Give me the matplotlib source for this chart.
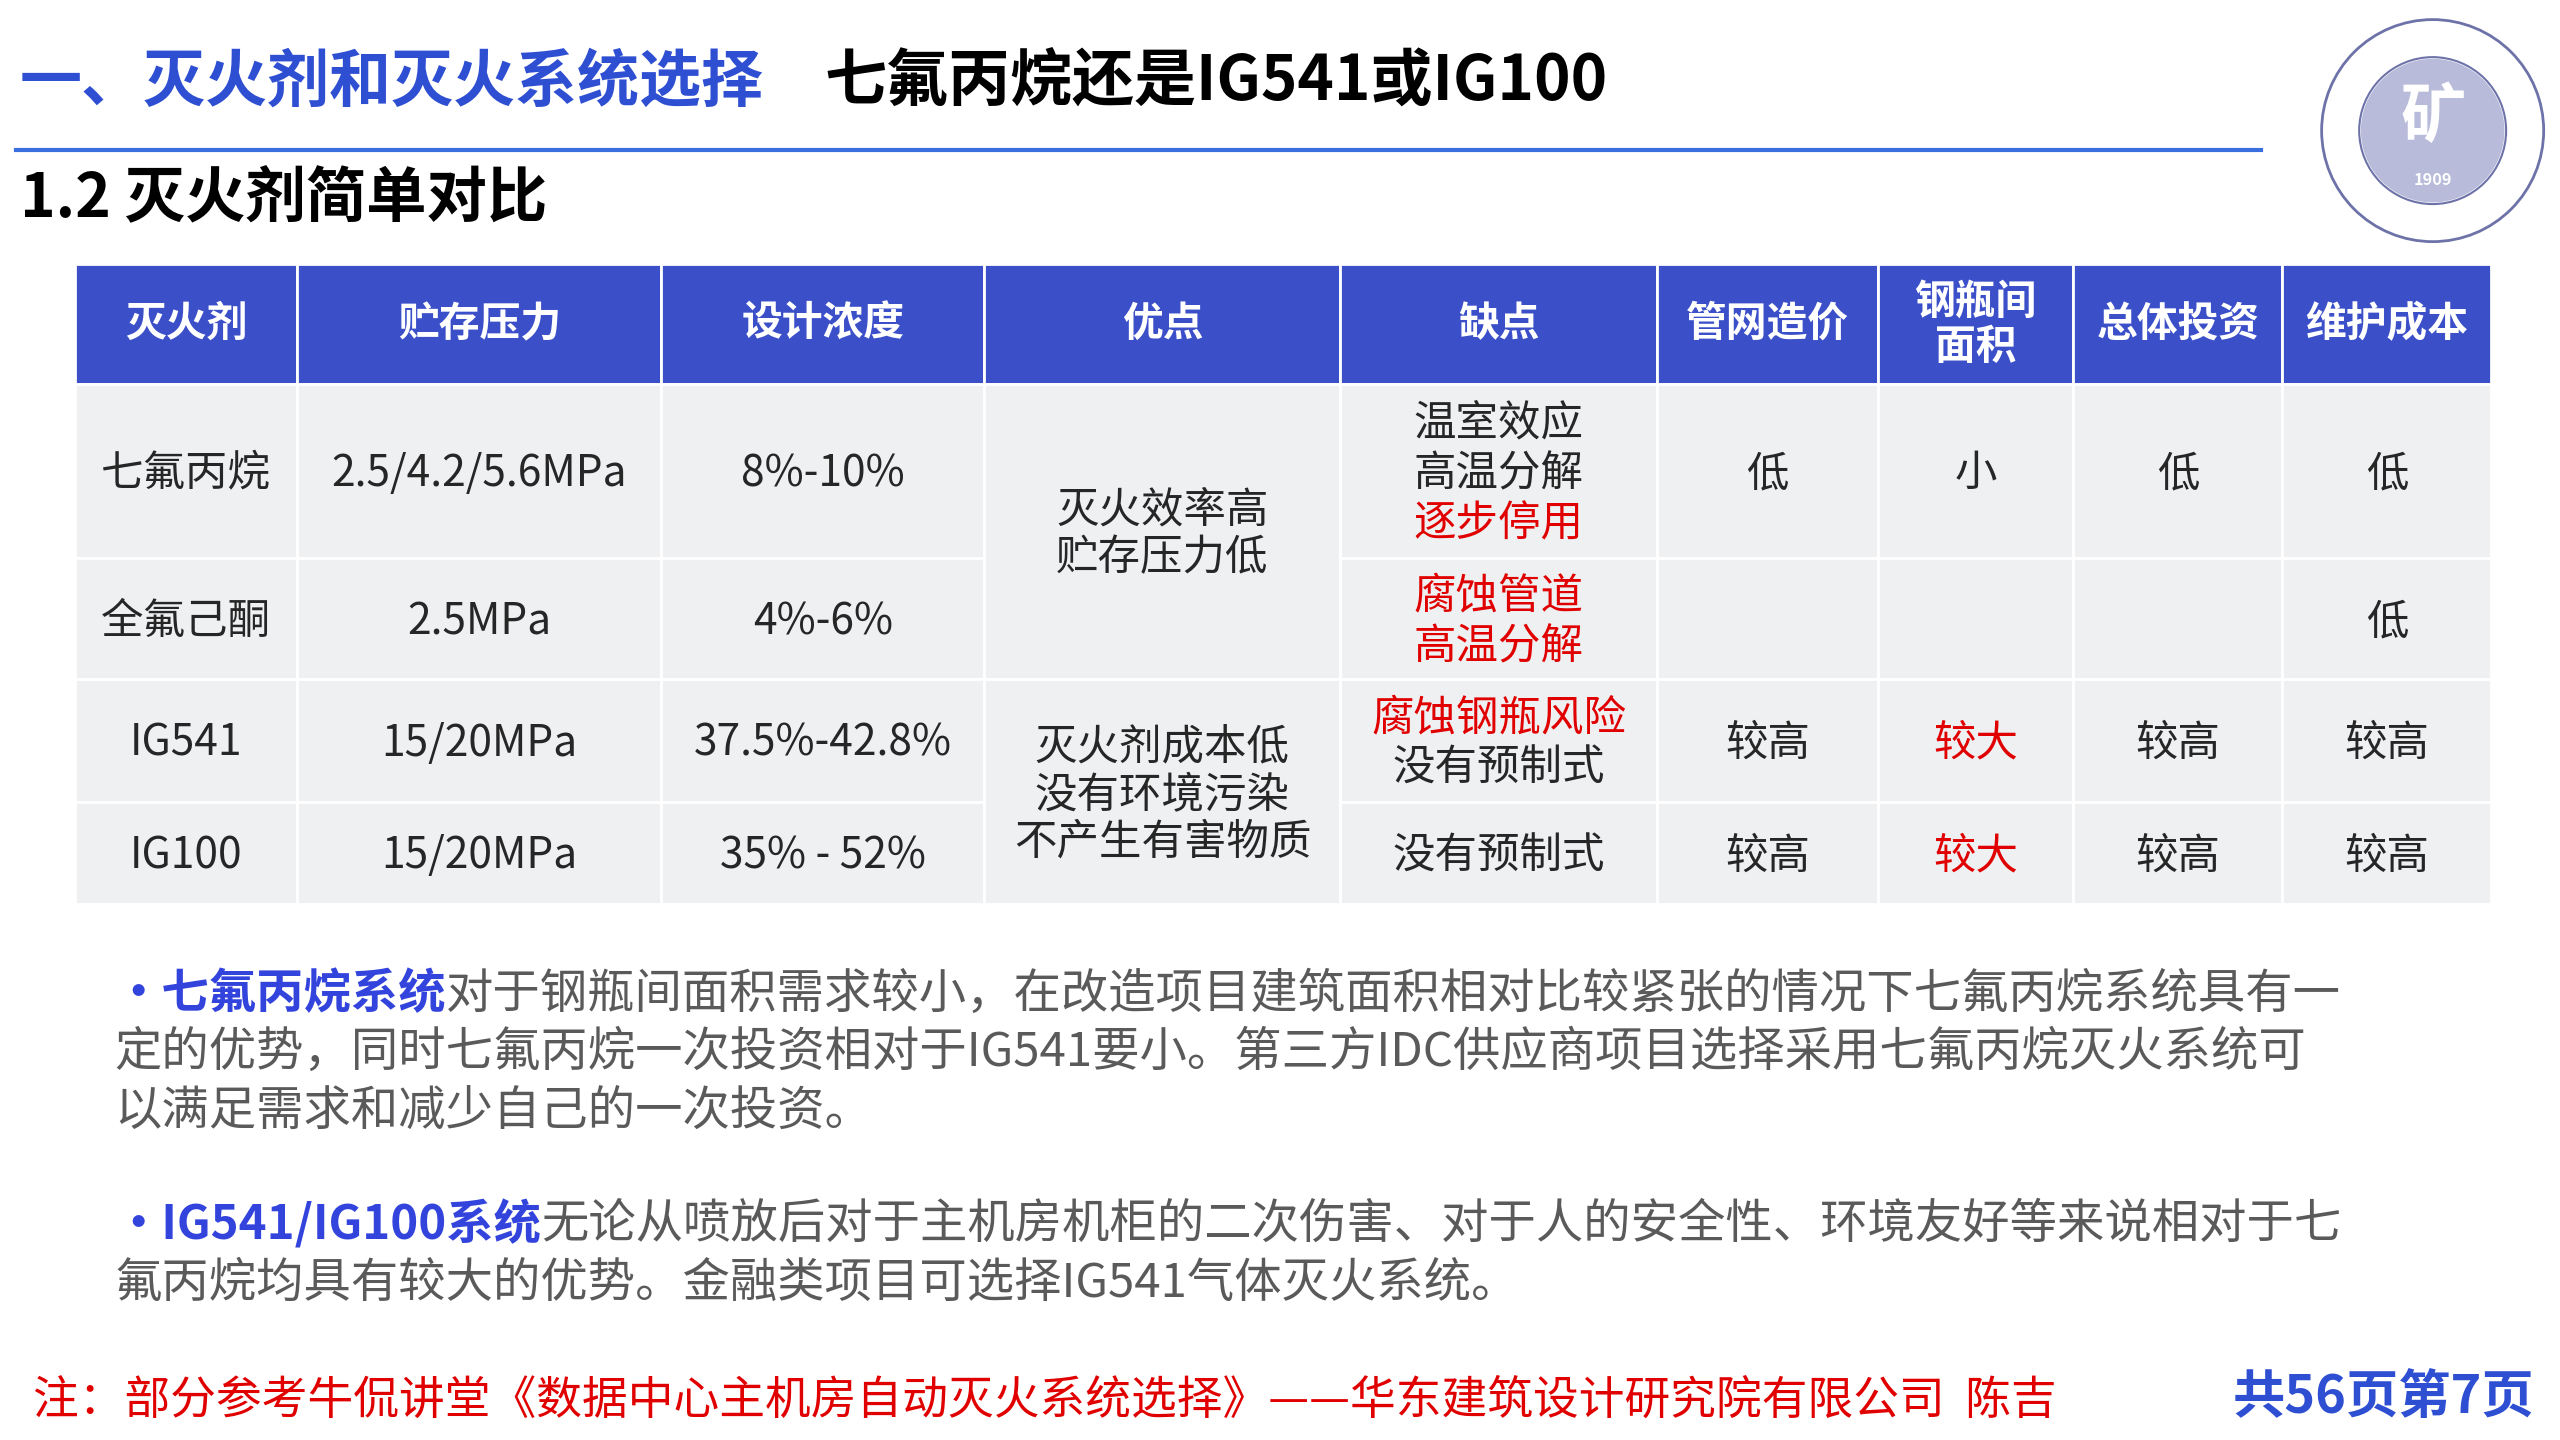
import matplotlib
matplotlib.use("Agg")
import matplotlib.pyplot as plt
from matplotlib.patches import Rectangle, Circle

plt.rcParams["font.family"] = "Noto Sans CJK SC"

headers = ["灭火剂", "贮存压力", "设计浓度", "优点", "缺点", "管网造价", "钢瓶间\n面积", "总体投资", "维护成本"]
agents = ["七氟丙烷", "全氟己酮", "IG541", "IG100"]
pressure = ["2.5/4.2/5.6MPa", "2.5MPa", "15/20MPa", "15/20MPa"]
concentration = ["8%-10%", "4%-6%", "37.5%-42.8%", "35% - 52%"]
advantages = ["灭火效率高\n贮存压力低", "灭火剂成本低\n没有环境污染\n不产生有害物质"]
disadvantages = [[("温室效应", "k"), ("高温分解", "k"), ("逐步停用", "r")],
                 [("腐蚀管道", "r"), ("高温分解", "r")],
                 [("腐蚀钢瓶风险", "r"), ("没有预制式", "k")],
                 [("没有预制式", "k")]]
pipe_cost = ["低", "", "较高", "较高"]
cyl_area = ["小", "", "较大", "较大"]
invest = ["低", "", "较高", "较高"]
maint = ["低", "低", "较高", "较高"]
area_red = [False, False, True, True]

S = 2560 / 1568
def fs(px):
    return px * S * 0.72

fig = plt.figure(figsize=(25.6, 14.4), dpi=100)
ax = fig.add_axes([0, 0, 1, 1])
ax.set_xlim(0, 1568); ax.set_ylim(882, 0); ax.axis("off")

BLUE = "#2f4fd3"
HDR = "#3b4fc9"
GRAY = "#eef0f2"
TXT = "#262626"
RED = "#e00000"

# title
ax.text(12, 50, "一、灭火剂和灭火系统选择", color=BLUE, fontsize=fs(38), fontweight="bold", va="center")
ax.text(505, 50, "七氟丙烷还是IG541或IG100", color="black", fontsize=fs(38), fontweight="bold", va="center")
ax.plot([10, 1385], [92, 92], color="#3a6fe0", lw=3)
ax.text(12, 122, "1.2 灭火剂简单对比", color="black", fontsize=fs(37), fontweight="bold", va="center")

# logo
cx, cy = 1490, 80
for r, lw in [(68, 2), (45, 1.5)]:
    ax.add_patch(Circle((cx, cy), r, fill=False, ec="#6d73a8", lw=lw))
ax.add_patch(Circle((cx, cy), 44, fc="#8a8fc0", ec="none", alpha=0.6))
ax.text(cx, cy - 8, "矿", fontsize=fs(40), color="white", ha="center", va="center", fontweight="bold")
ax.text(cx, cy + 30, "1909", fontsize=fs(10), color="white", ha="center", va="center", fontweight="bold")

# table
xs = [46, 182, 405, 603, 821, 1015, 1150, 1270, 1398, 1526]
ys = [162, 235, 342, 416, 491, 554]
for i, h in enumerate(headers):
    ax.add_patch(Rectangle((xs[i], ys[0]), xs[i+1]-xs[i], ys[1]-ys[0], fc=HDR, ec="white", lw=2))
    ax.text((xs[i]+xs[i+1])/2, (ys[0]+ys[1])/2, h, color="white", fontsize=fs(25), fontweight="bold",
            ha="center", va="center", linespacing=1.1)

def cell(c, r0, r1):
    ax.add_patch(Rectangle((xs[c], ys[r0+1]), xs[c+1]-xs[c], ys[r1+2]-ys[r0+1], fc=GRAY, ec="white", lw=2))
    return (xs[c]+xs[c+1])/2, (ys[r0+1]+ys[r1+2])/2

def put(x, y, s, color=TXT):
    ax.text(x, y + 2, s, color=color, fontsize=fs(26), ha="center", va="center", linespacing=1.1)

for r in range(4):
    put(*cell(0, r, r), agents[r])
    put(*cell(1, r, r), pressure[r])
    put(*cell(2, r, r), concentration[r])
    x, y = cell(4, r, r)
    lines = disadvantages[r]
    n = len(lines)
    for k, (s, c) in enumerate(lines):
        put(x, y + (k - (n-1)/2) * 31, s, RED if c == "r" else TXT)
    put(*cell(5, r, r), pipe_cost[r])
    put(*cell(6, r, r), cyl_area[r], RED if area_red[r] else TXT)
    put(*cell(7, r, r), invest[r])
    put(*cell(8, r, r), maint[r])
x, y = cell(3, 0, 1); put(x, y, advantages[0])
x, y = cell(3, 2, 3); put(x, y, advantages[1])

# paragraphs
PG = "#5a5a5a"
BL = "#3344dd"
PF = 29
def para(y, lines, lead):
    ax.text(70, y, "•" + lead, color=BL, fontsize=fs(PF), fontweight="bold", va="center")
    t = ax.text(0, 0, "•" + lead, fontsize=fs(PF), fontweight="bold")
    fig.canvas.draw()
    bb = t.get_window_extent(); t.remove()
    w = bb.width / S
    ax.text(70 + w, y, lines[0], color=PG, fontsize=fs(PF), va="center")
    for k, l in enumerate(lines[1:]):
        ax.text(70, y + 36*(k+1), l, color=PG, fontsize=fs(PF), va="center")

para(609, ["对于钢瓶间面积需求较小，在改造项目建筑面积相对比较紧张的情况下七氟丙烷系统具有一",
           "定的优势，同时七氟丙烷一次投资相对于IG541要小。第三方IDC供应商项目选择采用七氟丙烷灭火系统可",
           "以满足需求和减少自己的一次投资。"], "七氟丙烷系统")
para(750, ["无论从喷放后对于主机房机柜的二次伤害、对于人的安全性、环境友好等来说相对于七",
           "氟丙烷均具有较大的优势。金融类项目可选择IG541气体灭火系统。"], "IG541/IG100系统")

ax.text(20, 858, "注：部分参考牛侃讲堂《数据中心主机房自动灭火系统选择》——华东建筑设计研究院有限公司  陈吉",
        color=RED, fontsize=fs(28), va="center")
ax.text(1552, 856, "共56页第7页", color=BLUE, fontsize=fs(32), fontweight="bold", va="center", ha="right")

fig.savefig("out.png", dpi=100)
